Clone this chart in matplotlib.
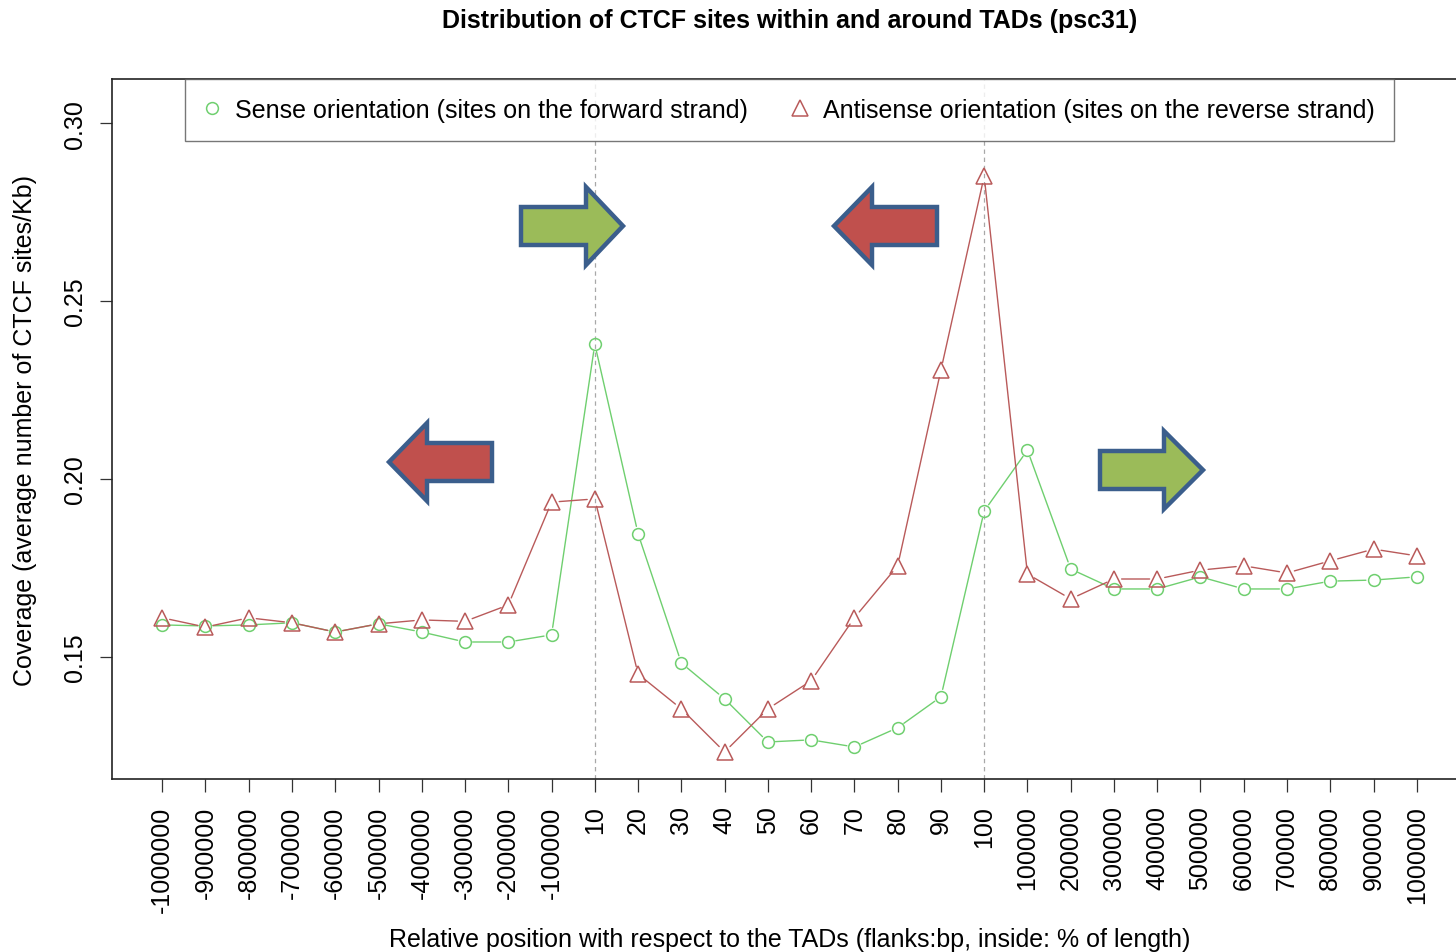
import matplotlib
matplotlib.use("Agg")
import matplotlib.pyplot as plt
from matplotlib.lines import Line2D
from matplotlib.patches import Polygon

plt.rcParams['font.family'] = ['Liberation Sans', 'DejaVu Sans']

# Bin labels: upstream flank (bp), inside the TAD (% of length), downstream flank (bp)
tick_labels = ['-1000000', '-900000', '-800000', '-700000', '-600000',
               '-500000', '-400000', '-300000', '-200000', '-100000',
               '10', '20', '30', '40', '50', '60', '70', '80', '90', '100',
               '100000', '200000', '300000', '400000', '500000',
               '600000', '700000', '800000', '900000', '1000000']

# Coverage (average number of CTCF sites per Kb)
sense = [0.1590, 0.1587, 0.1590, 0.1596, 0.1570, 0.1593, 0.1570, 0.1542, 0.1542, 0.1562,
         0.2379, 0.1846, 0.1483, 0.1382, 0.1261, 0.1267, 0.1247, 0.1301, 0.1388, 0.1910,
         0.2081, 0.1747, 0.1691, 0.1691, 0.1725, 0.1691, 0.1691, 0.1713, 0.1716, 0.1725]
antisense = [0.1610, 0.1584, 0.1610, 0.1596, 0.1570, 0.1593, 0.1604, 0.1600, 0.1646, 0.1935,
             0.1944, 0.1452, 0.1354, 0.1233, 0.1354, 0.1433, 0.1610, 0.1756, 0.2306, 0.2851,
             0.1733, 0.1663, 0.1719, 0.1719, 0.1744, 0.1756, 0.1736, 0.1770, 0.1803, 0.1784]

y_ticks = [0.15, 0.20, 0.25, 0.30]
y_tick_labels = ['0.15', '0.20', '0.25', '0.30']

# TAD borders (start and end of the domain)
border_labels = ['10', '100']

W, H = 1456, 953
FS = 18
fig = plt.figure(figsize=(W / 100, H / 100), dpi=100)
ax = fig.add_axes([112 / W, 1 - 780 / H, (1467 - 112) / W, (780 - 80) / H])

x = list(range(1, len(tick_labels) + 1))
green = '#6fcf6f'
red = '#b95a5a'

for lab in border_labels:
    ax.axvline(x[tick_labels.index(lab)], color='#a8a8a8', lw=0.9,
               ls=(0, (3.5, 3)), zorder=1)


def draw_series(vals, color, marker, ms, shrink):
    # lines broken around each point, open symbols on top
    for i in range(len(vals) - 1):
        ax.annotate('', xy=(x[i + 1], vals[i + 1]), xytext=(x[i], vals[i]),
                    arrowprops=dict(arrowstyle='-', color=color, lw=1.0,
                                    shrinkA=shrink, shrinkB=shrink),
                    zorder=2)
    ax.plot(x, vals, ls='none', marker=marker, ms=ms, mfc='none',
            mec=color, mew=1.1, zorder=3)


draw_series(sense, green, 'o', 8.5, 5.5)
draw_series(antisense, red, '^', 11, 5.5)

ax.set_xlim(1 - 29 * 0.04, 30 + 29 * 0.04)
ax.set_ylim(0.1157, 0.3124)
ax.set_xticks(x)
ax.set_xticklabels(tick_labels, rotation=90, va='top', ha='center', fontsize=FS)
ax.set_yticks(y_ticks)
ax.set_yticklabels(y_tick_labels, rotation=90, va='center', fontsize=FS)
ax.tick_params(axis='both', length=9, width=0.9, color='#333333')
ax.tick_params(axis='x', pad=10)
ax.tick_params(axis='y', pad=9)
for s in ax.spines.values():
    s.set_linewidth(1.2)
    s.set_color('#222222')

fig.text(25 / W, 1 - 430 / H, 'Coverage (average number of CTCF sites/Kb)',
         rotation=90, ha='center', va='center', fontsize=FS)
fig.text(790 / W, 1 - 940 / H,
         'Relative position with respect to the TADs (flanks:bp, inside: % of length)',
         ha='center', va='center', fontsize=FS)
fig.text(790 / W, 1 - 21 / H, 'Distribution of CTCF sites within and around TADs (psc31)',
         ha='center', va='center', fontsize=FS, fontweight='bold')

handles = [Line2D([], [], ls='none', marker='o', ms=8.5, mfc='none', mec=green, mew=1.1),
           Line2D([], [], ls='none', marker='^', ms=11, mfc='none', mec=red, mew=1.1)]
leg = ax.legend(handles,
                ['Sense orientation (sites on the forward strand)',
                 'Antisense orientation (sites on the reverse strand)'],
                loc='upper center', bbox_to_anchor=(0.5, 1.0), borderaxespad=0,
                ncol=2, fontsize=FS, frameon=True, fancybox=False,
                handlelength=0.6, handletextpad=0.62, columnspacing=1.8,
                borderpad=0.75)
leg.get_frame().set_edgecolor('#555555')
leg.get_frame().set_linewidth(1.0)


# Block arrows marking the preferred orientation on each side of the borders
def px(pt):
    return (pt[0] / W, 1 - pt[1] / H)


def block_arrow(tip_x, tip_y, base_x, head_half, tail_x, body_half, fill):
    pts = [(tail_x, tip_y - body_half), (base_x, tip_y - body_half),
           (base_x, tip_y - head_half), (tip_x, tip_y),
           (base_x, tip_y + head_half), (base_x, tip_y + body_half),
           (tail_x, tip_y + body_half)]
    fig.patches.append(Polygon([px(p) for p in pts], closed=True,
                               transform=fig.transFigure, facecolor=fill,
                               edgecolor='#3b5e8c', lw=3.2, joinstyle='miter',
                               zorder=5))


arrow_green = '#9bbb59'
arrow_red = '#c0504d'
block_arrow(623, 227, 586, 39, 521, 19, arrow_green)
block_arrow(834, 227, 872, 39, 937, 19, arrow_red)
block_arrow(389, 463, 427, 39, 492, 19, arrow_red)
block_arrow(1203, 471, 1164, 39, 1100, 19, arrow_green)

fig.savefig('out.png', dpi=100)
